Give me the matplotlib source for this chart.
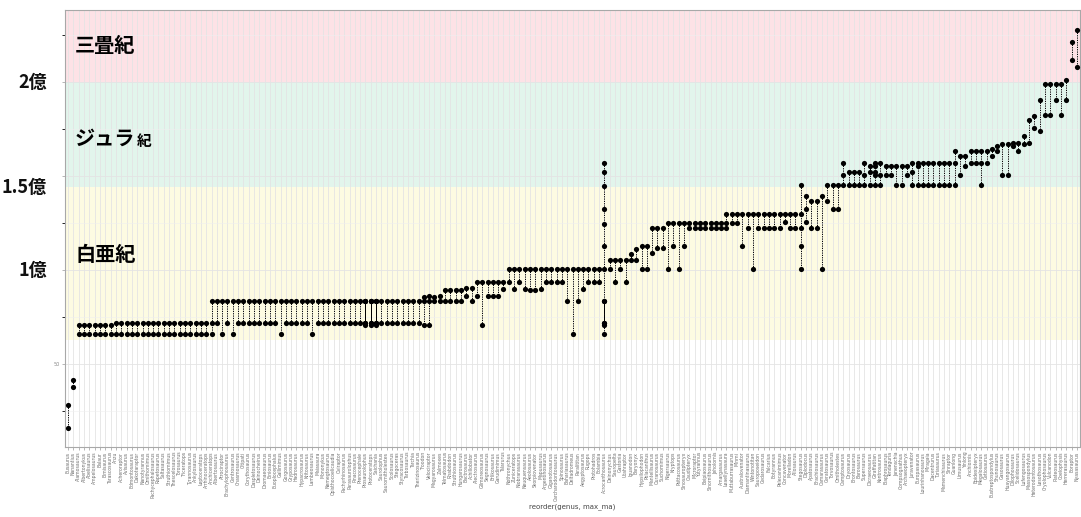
import matplotlib
matplotlib.use("Agg")
import matplotlib.pyplot as plt

# ---------------- data ----------------
genera = """Eusaurus Nanantius Alamosaurus Albertonykus Abelisaurus Ampelosaurus Balaur Elmisaurus Tarascosaurus Anzu
Acheroraptor Avisaurus Edmontosaurus Dakotaraptor Nanotyrannus Ornithomimus Pachycephalosaurus Rapetosaurus Saltasaurus Struthiomimus
Thescelosaurus Torosaurus Triceratops Tyrannosaurus Ankylosaurus Leptoceratops Arrhinoceratops Anchiceratops Albertosaurus Atrociraptor
Brachylophosaurus Centrosaurus Chasmosaurus Citipati Corythosaurus Daspletosaurus Deinocheirus Dromaeosaurus Einiosaurus Euoplocephalus
Gallimimus Gorgosaurus Gryposaurus Hadrosaurus Hypacrosaurus Kritosaurus Lambeosaurus Maiasaura Mononykus Nemegtosaurus
Opisthocoelicaudia Oviraptor Pachyrhinosaurus Parasaurolophus Pinacosaurus Prenocephale Prosaurolophus Protoceratops Saichania Saurolophus
Saurornitholestes Scolosaurus Stegoceras Styracosaurus Tarbosaurus Tarchia Therizinosaurus Troodon Velociraptor Magyarosaurus
Zalmoxes Telmatosaurus Rhabdodon Struthiosaurus Hungarosaurus Bactrosaurus Achillobator Alectrosaurus Gilmoreosaurus Segnosaurus
Erlikosaurus Garudimimus Talarurus Nothronychus Zuniceratops Niobrarasaurus Neuquensaurus Aeolosaurus Skorpiovenator Mapusaurus
Argentinosaurus Giganotosaurus Carcharodontosaurus Spinosaurus Bahariasaurus Deltadromeus Paralititan Aegyptosaurus Rugops Protohadros
Eolambia Acrocanthosaurus Deinonychus Sauropelta Gastonia Utahraptor Iguanodon Baryonyx Hypsilophodon Polacanthus
Mantellisaurus Ouranosaurus Suchomimus Nigersaurus Kryptops Psittacosaurus Sinosauropteryx Caudipteryx Microraptor Yutyrannus
Beipiaosaurus Sinornithosaurus Jeholornis Amargasaurus Leaellynasaura Muttaburrasaurus Minmi Australovenator Diamantinasaurus Wintonotitan
Sauroposeidon Cedarosaurus Falcarius Eotyrannus Pelecanimimus Concavenator Morelladon Allosaurus Stegosaurus Diplodocus
Apatosaurus Brachiosaurus Camarasaurus Ceratosaurus Torvosaurus Ornitholestes Camptosaurus Dryosaurus Brontosaurus Barosaurus
Supersaurus Dicraeosaurus Giraffatitan Kentrosaurus Elaphrosaurus Tendaguria Janenschia Compsognathus Archaeopteryx Juravenator
Europasaurus Lourinhanosaurus Miragaia Dacentrurus Turiasaurus Mamenchisaurus Sinraptor Guanlong Limusaurus Yinlong
Anchiornis Epidexipteryx Megalosaurus Cetiosaurus Eustreptospondylus Shunosaurus Gasosaurus Huayangosaurus Dilophosaurus Scelidosaurus
Lufengosaurus Massospondylus Heterodontosaurus Lesothosaurus Cryolophosaurus Vulcanodon Plateosaurus Coelophysis Herrerasaurus Eoraptor
Nyasasaurus""".split()

# max_ma of each occurrence (million years), per genus, Cenozoic + Maastrichtian
ma_late_cret = [
    [28.2, 16.1], [41.5, 37.8],
    [70.6, 66.0], [70.6, 66.0], [70.6, 66.0], [70.6, 66.0], [70.6, 66.0], [70.6, 66.0], [70.6, 66.0],
    [72.1, 66.0], [72.1, 66.0], [72.1, 66.0], [72.1, 66.0], [72.1, 66.0], [72.1, 66.0],
    [72.1, 66.0], [72.1, 66.0], [72.1, 66.0], [72.1, 66.0], [72.1, 66.0], [72.1, 66.0],
    [72.1, 66.0], [72.1, 66.0], [72.1, 66.0], [72.1, 66.0], [72.1, 66.0], [72.1, 66.0],
]
# Campanian
ma_campanian = [
    [83.6, 72.1, 66.0], [83.6, 72.1], [83.6, 66.0], [83.6, 72.1], [83.6, 66.0],
    [83.6, 72.1], [83.6, 72.1], [83.6, 72.1], [83.6, 72.1], [83.6, 72.1], [83.6, 72.1], [83.6, 72.1], [83.6, 72.1],
    [83.6, 66.0],
    [83.6, 72.1], [83.6, 72.1], [83.6, 72.1], [83.6, 72.1], [83.6, 72.1],
    [83.6, 66.0],
    [83.6, 72.1], [83.6, 72.1], [83.6, 72.1], [83.6, 72.1], [83.6, 72.1], [83.6, 72.1], [83.6, 72.1], [83.6, 72.1], [83.6, 72.1],
    [83.6, 72.1, 83.6, 70.6, 83.6, 72.1], [83.6, 72.1, 83.6, 70.6, 83.6, 72.1], [83.6, 72.1, 83.6, 70.6, 83.6, 72.1],
    [83.6, 72.1], [83.6, 72.1], [83.6, 72.1], [83.6, 72.1], [83.6, 72.1], [83.6, 72.1], [83.6, 72.1], [83.6, 72.1],
    [85.8, 83.6, 70.6], [86.3, 83.6, 70.6], [85.8, 83.6], [86.3, 83.6],
]
# Santonian .. Aptian
ma_mid_cret = [
    [89.4, 83.6], [89.4, 83.6], [89.4, 83.6], [89.4, 83.6],
    [90.5, 86.3], [90.5, 83.6], [93.9, 86.3], [93.9, 70.6],
    [93.9, 86.3], [93.9, 86.3], [93.9, 86.3], [93.9, 89.8],
    [100.5, 93.9], [100.5, 89.8], [100.5, 93.9], [100.5, 89.8], [100.5, 89.4], [100.5, 89.4], [100.5, 90.2],
    [100.5, 93.9], [100.5, 93.9], [100.5, 93.9], [100.5, 93.9],
    [100.5, 83.6], [100.5, 66.0], [100.5, 83.6], [100.5, 89.8],
    [100.5, 93.9], [100.5, 93.9], [100.5, 93.9],
    [157.3, 152.1, 144.8, 132.6, 124.8, 112.9, 100.5, 83.6, 72.1, 83.6, 70.6, 72.1, 66.0],
    [105.3, 100.5], [105.3, 93.9], [105.3, 100.5], [105.3, 93.9],
    [108.5, 105.3], [111.5, 105.3], [112.9, 100.5], [112.9, 100.5],
    [122.3, 108.9], [122.3, 112.0], [122.3, 112.0],
    [125.2, 100.5], [125.2, 112.9], [125.2, 100.5], [125.2, 112.9],
    [125.2, 122.3], [125.2, 122.3], [125.2, 122.3], [125.2, 122.3], [125.2, 122.3], [125.2, 122.3], [125.2, 122.3],
    [130.1, 125.2, 122.3], [130.1, 125.2], [130.1, 125.2], [130.1, 112.9], [130.1, 122.3], [130.1, 100.5],
    [130.1, 122.3], [130.1, 122.3], [130.1, 122.3], [130.1, 122.3], [130.1, 122.3],
    [130.1, 125.4], [130.1, 122.3], [130.1, 122.3],
]
# Early Cretaceous / Jurassic / Triassic
ma_jurassic = [
    [145.2, 130.1, 122.3, 112.9, 100.5],
    [139.5, 132.4, 125.4], [136.7, 122.3], [136.7, 122.3], [139.5, 100.5],
    [145.2, 136.7], [145.2, 132.4], [145.2, 132.4],
    [157.3, 150.5, 145.2], [152.1, 145.2], [152.1, 145.2], [152.1, 145.2],
    [157.3, 150.5, 145.2], [155.3, 152.1, 145.2], [157.3, 155.3, 152.1, 150.5, 145.2], [157.3, 150.5, 145.2],
    [155.3, 150.5], [155.3, 150.5], [155.3, 145.2], [155.3, 145.2], [155.3, 150.5],
    [157.3, 152.1, 145.2], [157.3, 155.3, 145.2],
    [157.3, 145.2], [157.3, 145.2], [157.3, 145.2], [157.3, 145.2], [157.3, 145.2], [157.3, 145.2],
    [163.5, 157.3, 145.2], [160.8, 150.5], [160.8, 155.4], [163.5, 157.3], [163.5, 157.3],
    [163.5, 157.3, 145.2], [163.5, 157.3], [164.7, 160.8], [166.1, 163.5], [167.4, 150.5],
    [167.4, 150.5], [167.9, 165.9], [167.9, 163.5], [171.3, 167.4], [179.8, 167.9],
    [181.9, 175.7], [190.4, 174.1], [199.3, 182.4], [199.3, 182.4], [199.3, 190.4],
    [199.3, 182.4], [201.0, 190.4],
    [221.4, 211.7], [227.7, 208.1],
]

# periods (label, bottom, top) in million years
periods = ["三畳紀", "ジュラ紀", "白亜紀"]
period_bottom = [200.0, 144.2, 62.8]
period_top = [238.5, 200.0, 144.2]
period_colors = ["#FDE2E6", "#E2F5EC", "#FDFBE2"]

y_major = [50, 100, 150, 200]
y_labels_jp = ["1億", "1.5億", "2億"]
y_label_pos = [100, 144.0, 200]

# ---------------- plotting ----------------
ranges = ma_late_cret + ma_campanian + ma_mid_cret + ma_jurassic
assert len(ranges) == len(genera), (len(ranges), len(genera))
N = len(genera)

plt.rcParams["font.family"] = ["DejaVu Sans"]
fig = plt.figure(figsize=(10.81, 5.17), dpi=100)
L, R, T, B = 65, 1080, 10, 447
ax = fig.add_axes([L / 1081, 1 - B / 517, (R - L) / 1081, (B - T) / 517])

ymin, ymax = 5.85, 238.5
ax.set_xlim(-0.6, N - 1 + 0.6)
ax.set_ylim(ymin, ymax)

for lab, lo, hi, c in zip(periods, period_bottom, period_top, period_colors):
    ax.axhspan(lo, hi, color=c, zorder=0, lw=0)

ax.set_axisbelow(True)
ax.set_xticks(range(N))
ax.set_yticks(y_major)
ax.set_yticks([25, 75, 125, 175, 225], minor=True)
ax.grid(True, which="major", color="#E4E4E4", lw=0.6)
ax.grid(True, which="minor", axis="y", color="#EFEFEF", lw=0.4)

for i, vals in enumerate(ranges):
    ax.plot([i] * len(vals), vals, color="black", lw=0.7,
            linestyle=(0, (1.2, 1.2)), zorder=2)
    ax.scatter([i] * len(vals), vals, s=14, color="black", zorder=3, linewidths=0)

ax.set_xticklabels(genera, rotation=90, fontsize=3.3, color="#707070")
ax.set_yticklabels(["50", "", "", ""], fontsize=3.5, color="#888888")
ax.tick_params(axis="both", length=2, width=0.5, color="#9A9A9A", pad=1.5)

for s in ax.spines.values():
    s.set_color("#A8A8A8")
    s.set_linewidth(0.8)

ax.set_xlabel("reorder(genus, max_ma)", fontsize=5, color="#444444", labelpad=2)

jp = ["Noto Sans CJK JP", "DejaVu Sans"]
for t, yv in zip(y_labels_jp, y_label_pos):
    ax.text(-0.018, yv, t, transform=ax.get_yaxis_transform(), ha="right", va="center",
            fontsize=13, fontweight="bold", family=jp, color="#111111")

ax.text(1.3, 219.5, "三畳紀", fontsize=14.5, fontweight="bold", family=jp, va="center", ha="left")
ax.text(1.3, 170.0, "ジュラ", fontsize=14.5, fontweight="bold", family=jp, va="center", ha="left")
ax.text(13.0, 169.0, "紀", fontsize=10.5, fontweight="bold", family=jp, va="center", ha="left")
ax.text(1.3, 108.5, "白亜紀", fontsize=14.5, fontweight="bold", family=jp, va="center", ha="left")

fig.savefig("out.png", dpi=100, facecolor="white")
